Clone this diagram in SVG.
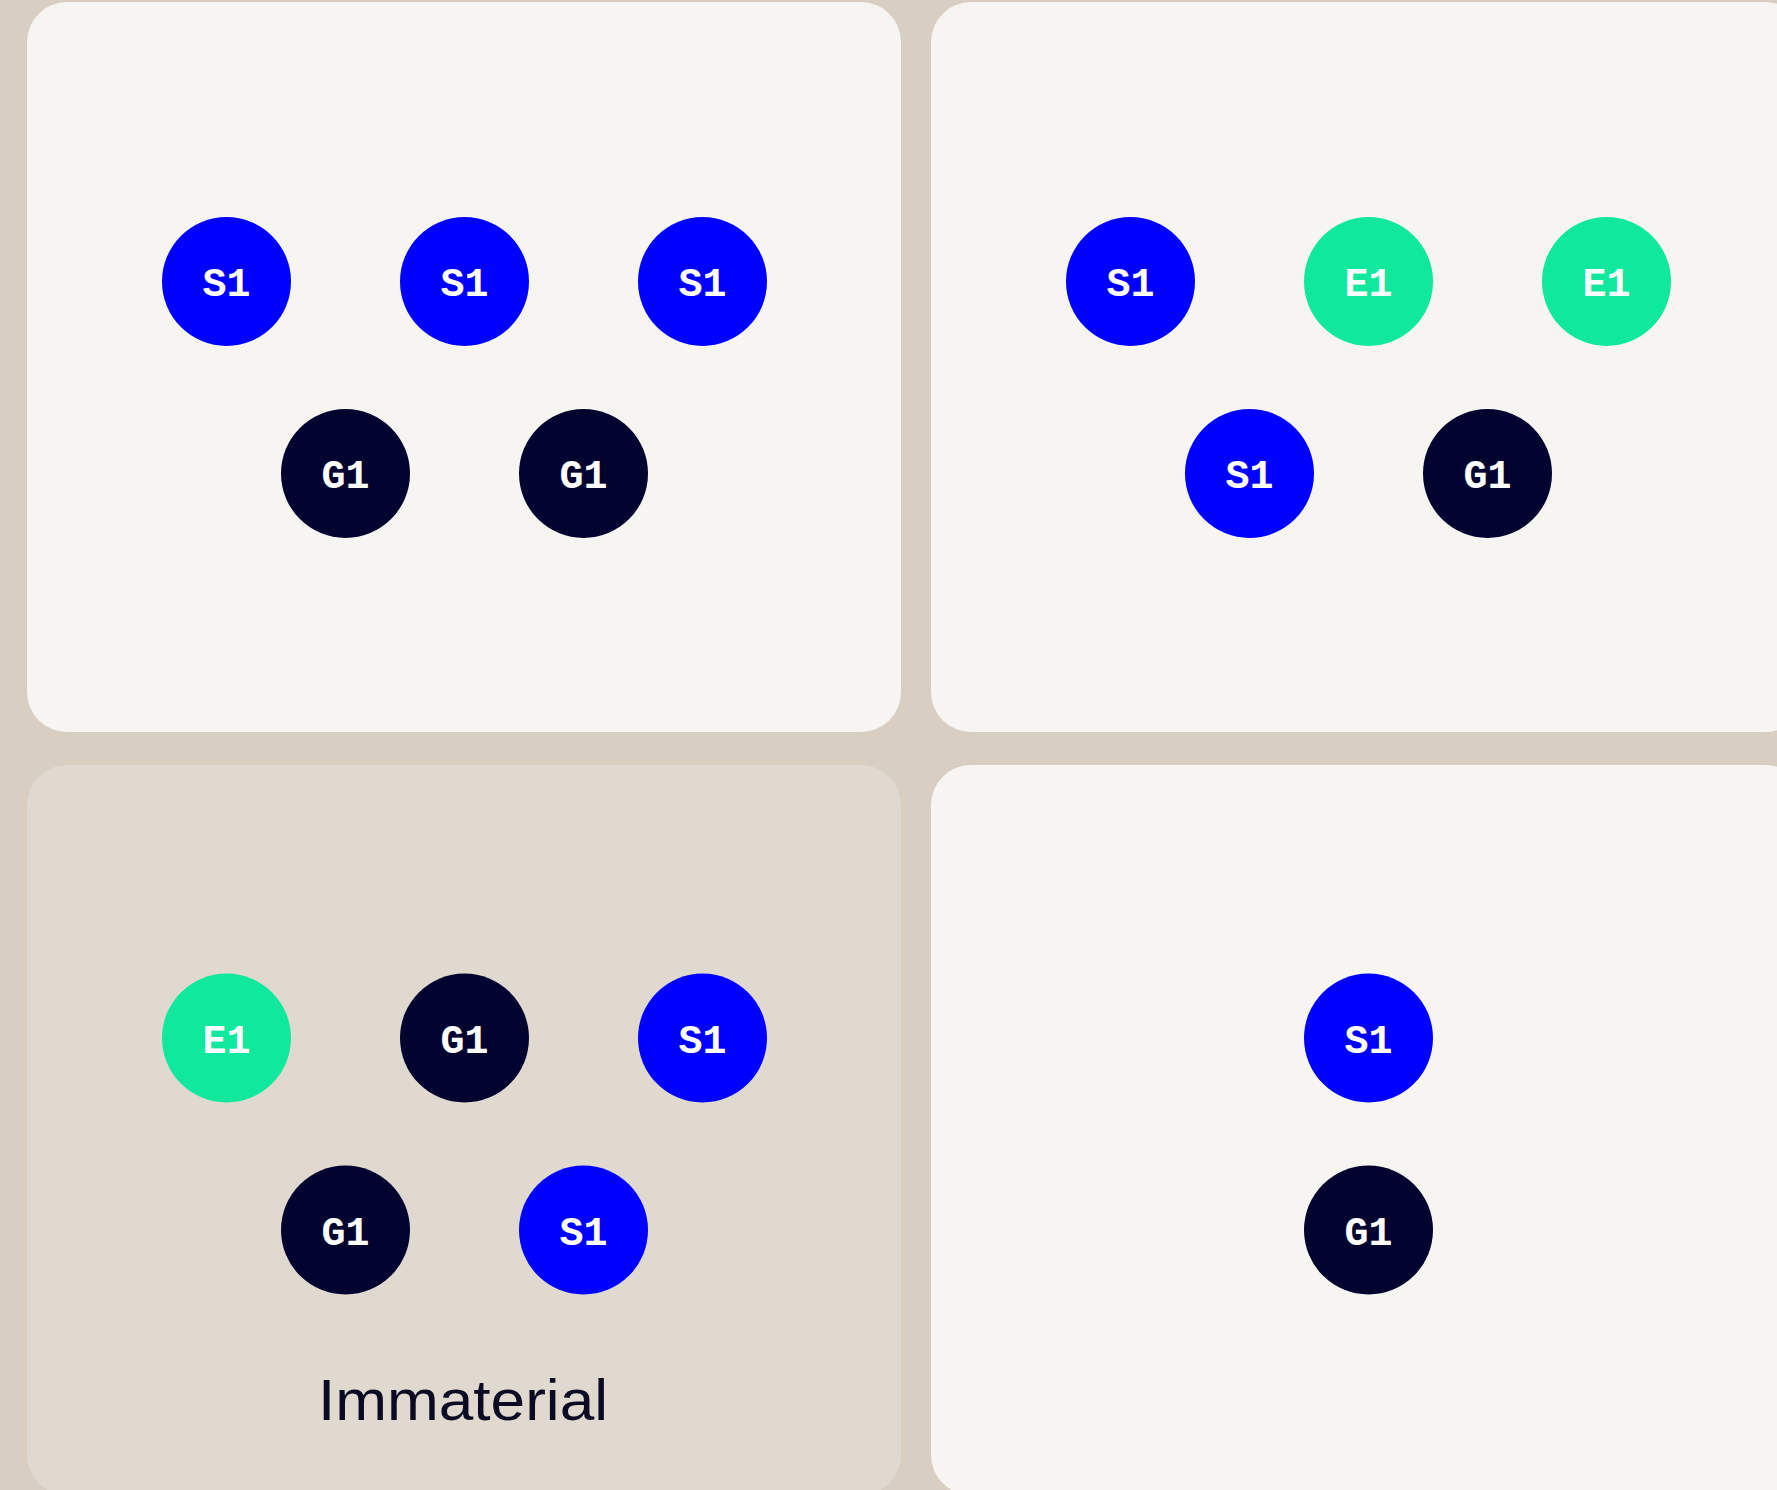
<svg xmlns="http://www.w3.org/2000/svg" width="1777" height="1490" viewBox="0 0 1777 1490">
<style>
.bg{fill:#d8cec2}
.panel{fill:#f6f5f1}
.panel-alt{fill:#e0d9cf}
.s{fill:#0000ff}
.e{fill:#10e89e}
.g{fill:#03032f}
.lbl{font-family:"Liberation Mono","DejaVu Sans Mono",monospace;font-weight:bold;font-size:40px;fill:#ffffff;text-anchor:middle}
.cap{font-family:"Liberation Sans","DejaVu Sans",sans-serif;font-size:58px;fill:#0a0a23;text-anchor:middle}
</style>
<rect class="bg" x="0" y="0" width="1777" height="1490"/>
<g id="panel-top-left"><rect class="panel" x="27" y="2" width="874" height="730" rx="40"/></g>
<g id="panel-top-right"><rect class="panel" x="931" y="2" width="874" height="730" rx="40"/></g>
<g id="panel-bottom-left"><rect class="panel-alt" x="27" y="765" width="874" height="730" rx="40"/>
<text class="cap" x="463" y="1420" textLength="290" lengthAdjust="spacingAndGlyphs">Immaterial</text></g>
<g id="panel-bottom-right"><rect class="panel" x="931" y="765" width="874" height="730" rx="40"/></g>
<g id="connectors"></g>
<g id="tl-s1a"><circle class="s" cx="226.5" cy="281.5" r="64.5"/><text class="lbl" x="226.5" y="296">S1</text></g>
<g id="tl-s1b"><circle class="s" cx="464.5" cy="281.5" r="64.5"/><text class="lbl" x="464.5" y="296">S1</text></g>
<g id="tl-s1c"><circle class="s" cx="702.5" cy="281.5" r="64.5"/><text class="lbl" x="702.5" y="296">S1</text></g>
<g id="tl-g1a"><circle class="g" cx="345.5" cy="473.5" r="64.5"/><text class="lbl" x="345.5" y="488">G1</text></g>
<g id="tl-g1b"><circle class="g" cx="583.5" cy="473.5" r="64.5"/><text class="lbl" x="583.5" y="488">G1</text></g>
<g id="tr-s1a"><circle class="s" cx="1130.5" cy="281.5" r="64.5"/><text class="lbl" x="1130.5" y="296">S1</text></g>
<g id="tr-e1a"><circle class="e" cx="1368.5" cy="281.5" r="64.5"/><text class="lbl" x="1368.5" y="296">E1</text></g>
<g id="tr-e1b"><circle class="e" cx="1606.5" cy="281.5" r="64.5"/><text class="lbl" x="1606.5" y="296">E1</text></g>
<g id="tr-s1b"><circle class="s" cx="1249.5" cy="473.5" r="64.5"/><text class="lbl" x="1249.5" y="488">S1</text></g>
<g id="tr-g1a"><circle class="g" cx="1487.5" cy="473.5" r="64.5"/><text class="lbl" x="1487.5" y="488">G1</text></g>
<g id="bl-e1a"><circle class="e" cx="226.5" cy="1038" r="64.5"/><text class="lbl" x="226.5" y="1052.5">E1</text></g>
<g id="bl-g1a"><circle class="g" cx="464.5" cy="1038" r="64.5"/><text class="lbl" x="464.5" y="1052.5">G1</text></g>
<g id="bl-s1a"><circle class="s" cx="702.5" cy="1038" r="64.5"/><text class="lbl" x="702.5" y="1052.5">S1</text></g>
<g id="bl-g1b"><circle class="g" cx="345.5" cy="1230" r="64.5"/><text class="lbl" x="345.5" y="1244.5">G1</text></g>
<g id="bl-s1b"><circle class="s" cx="583.5" cy="1230" r="64.5"/><text class="lbl" x="583.5" y="1244.5">S1</text></g>
<g id="br-s1a"><circle class="s" cx="1368.5" cy="1038" r="64.5"/><text class="lbl" x="1368.5" y="1052.5">S1</text></g>
<g id="br-g1a"><circle class="g" cx="1368.5" cy="1230" r="64.5"/><text class="lbl" x="1368.5" y="1244.5">G1</text></g>
</svg>
